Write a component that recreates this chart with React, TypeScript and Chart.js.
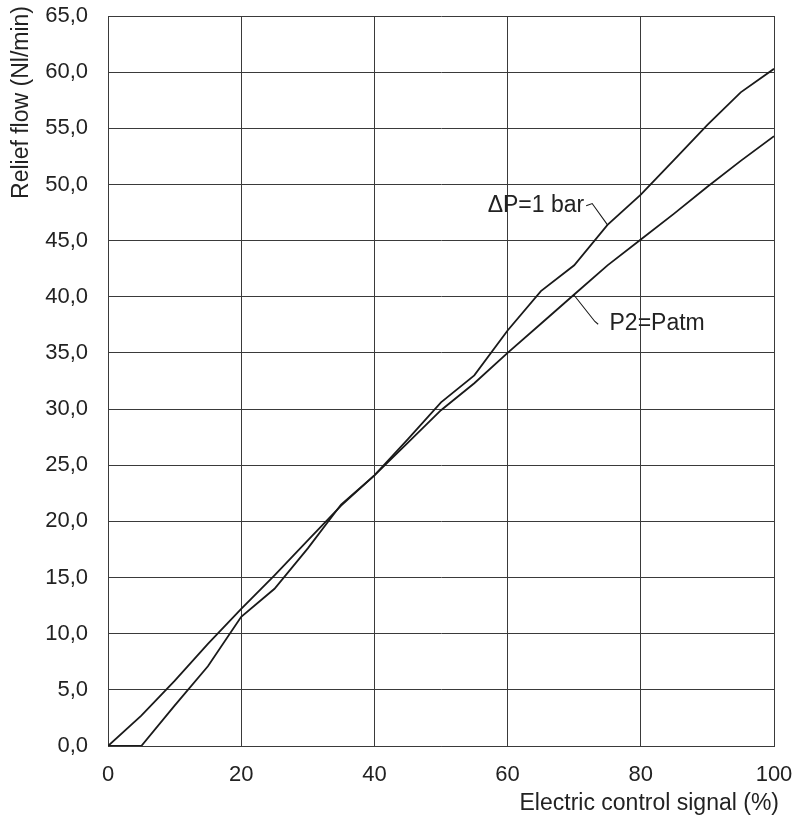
import React, { useEffect, useRef } from "react";
import { Chart, registerables } from "chart.js";

Chart.register(...registerables);

const xValues = [0, 5, 10, 15, 20, 25, 30, 35, 40, 45, 50, 55, 60, 65, 70, 75, 80, 85, 90, 95, 100];
const deltaP1Bar = [0, 0, 3.6, 7.1, 11.5, 14.0, 17.6, 21.5, 24.1, 27.3, 30.6, 33.0, 37.0, 40.5, 42.8, 46.4, 49.1, 52.2, 55.3, 58.2, 60.3];
const p2Patm = [0, 2.7, 5.8, 9.1, 12.2, 15.2, 18.3, 21.4, 24.1, 27.0, 29.9, 32.3, 35.0, 37.6, 40.2, 42.8, 45.1, 47.4, 49.8, 52.1, 54.3];

const seriesNames = ["ΔP=1 bar", "P2=Patm"];
const xTitle = "Electric control signal (%)";
const yTitle = "Relief flow (Nl/min)";

// annotation anchors in data units
const labelB = { x: 71.5, y: 48.1, leader: [[71.8, 48.1], [72.7, 48.3], [75, 46.4]] };
const labelA = { x: 75.3, y: 37.6, leader: [[69.9, 40.2], [73.1, 37.8], [73.6, 37.55]] };

const FONT = "Liberation Sans, Arial, Helvetica, sans-serif";
const INK = "#1a1a1a";
const FS = 22;
const FS_TITLE = 23;

const annotate = {
  id: "annotate",
  afterDraw(chart: any) {
    const { ctx, scales } = chart;
    const xs = scales.x;
    const ys = scales.y;
    ctx.save();
    ctx.fillStyle = "#222";
    ctx.strokeStyle = INK;
    ctx.lineWidth = 1.1;
    ctx.font = `${FS_TITLE}px ${FONT}`;
    ctx.textBaseline = "middle";
    ctx.textAlign = "right";
    ctx.fillText(seriesNames[0], xs.getPixelForValue(labelB.x), ys.getPixelForValue(labelB.y));
    ctx.textAlign = "left";
    ctx.fillText(seriesNames[1], xs.getPixelForValue(labelA.x), ys.getPixelForValue(labelA.y));
    for (const lab of [labelB, labelA]) {
      ctx.beginPath();
      lab.leader.forEach((p, i) => {
        const px = xs.getPixelForValue(p[0]);
        const py = ys.getPixelForValue(p[1]);
        if (i === 0) ctx.moveTo(px, py);
        else ctx.lineTo(px, py);
      });
      ctx.stroke();
    }
    ctx.textAlign = "right";
    ctx.fillText(xTitle, xs.right + 5, 804);
    ctx.translate(22, 6);
    ctx.rotate(-Math.PI / 2);
    ctx.textAlign = "right";
    ctx.fillText(yTitle, 0, 0);
    ctx.restore();
  },
};

export default function App() {
  const ref = useRef<HTMLCanvasElement>(null);
  useEffect(() => {
    if (!ref.current) return;
    const chart = new Chart(ref.current, {
      type: "line",
      data: {
        datasets: [
          {
            label: seriesNames[0],
            data: xValues.map((x, i) => ({ x, y: deltaP1Bar[i] })),
            borderColor: INK,
            borderWidth: 1.8,
            pointRadius: 0,
            tension: 0,
          },
          {
            label: seriesNames[1],
            data: xValues.map((x, i) => ({ x, y: p2Patm[i] })),
            borderColor: INK,
            borderWidth: 1.8,
            pointRadius: 0,
            tension: 0,
          },
        ],
      },
      options: {
        animation: false,
        responsive: false,
        layout: { padding: { top: 16, right: 23, left: 0, bottom: 0 } },
        plugins: { legend: { display: false }, tooltip: { enabled: false } },
        scales: {
          x: {
            type: "linear",
            min: 0,
            max: 100,
            afterFit: (s: any) => {
              s.height = 79;
              s.paddingLeft = 0;
              s.paddingRight = 0;
            },
            ticks: { stepSize: 20, color: "#222", font: { family: FONT, size: FS }, padding: 16, maxRotation: 0 },
            grid: { color: "#3a3a3a", lineWidth: 1, drawTicks: false },
            border: { color: "#3a3a3a", width: 1 },
          },
          y: {
            type: "linear",
            min: 0,
            max: 65,
            afterFit: (s: any) => {
              s.width = 108;
              s.paddingTop = 0;
              s.paddingBottom = 0;
            },
            ticks: {
              stepSize: 5,
              color: "#222",
              font: { family: FONT, size: FS },
              padding: 20,
              callback: (v: any) => Number(v).toFixed(1).replace(".", ","),
            },
            grid: { color: "#3a3a3a", lineWidth: 1, drawTicks: false },
            border: { color: "#3a3a3a", width: 1 },
          },
        },
      },
      plugins: [annotate],
    });
    return () => chart.destroy();
  }, []);
  return (
    <div style={{ position: "fixed", left: 0, top: 0, width: 797, height: 825, background: "#fff" }}>
      <canvas ref={ref} width={797} height={825} style={{ width: 797, height: 825, display: "block" }} />
    </div>
  );
}
